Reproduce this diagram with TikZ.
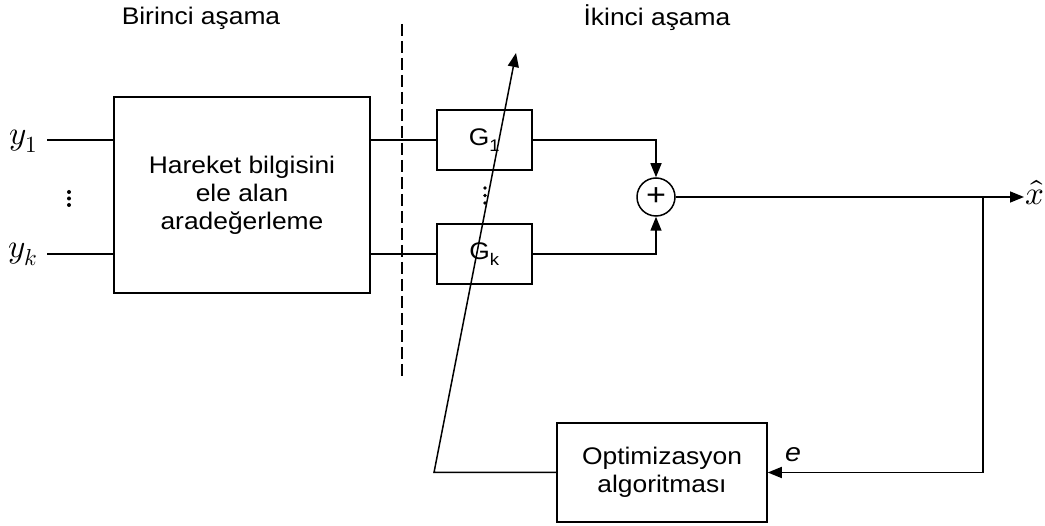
\documentclass[tikz,border=0pt]{standalone}
\usepackage{fontspec}
\usepackage{unicode-math}
\setmainfont{Liberation Sans}[FakeStretch=1.1]
\setmathfont{Latin Modern Math}
\usetikzlibrary{arrows.meta}
\begin{document}
\begin{tikzpicture}[x=1pt,y=-1pt,
  line width=1.5pt,
  txt/.style={font=\fontsize{24}{28}\selectfont},
  blk/.style={draw,rectangle,inner sep=0pt,align=center,font=\fontsize{24}{28}\selectfont},
  mth/.style={font=\fontsize{33}{36}\selectfont},
  arr/.style={-{Triangle[length=14pt,width=11pt]}},
  sep/.style={dash pattern=on 12pt off 5pt}]
\useasboundingbox (0,0) rectangle (1045,526);
% titles
\node[txt] (t1) at (201,18) {Birinci aşama};
\node[txt] (t2) at (657,18) {İkinci aşama};
% dashed separator
\coordinate (d1) at (402,24);
\coordinate (d2) at (402,380);
\draw[sep] (d1) -- (d2);
% blocks
\node[blk,minimum width=256pt,minimum height=196pt] (big) at (242,195) {Hareket bilgisini\\ele alan\\aradeğerleme};
\node[blk,minimum width=95pt,minimum height=60pt] (G1) at (484.5,140) {G\textsubscript{1}};
\node[blk,minimum width=95pt,minimum height=60pt] (Gk) at (484.5,254) {G\textsubscript{k}};
\node[draw,circle,minimum size=38pt,inner sep=0pt,font=\fontsize{31}{31}\selectfont] (sum) at (656,197) {+};
\node[blk,minimum width=210pt,minimum height=99pt] (opt) at (662,472.5) {Optimizasyon\\algoritması};
% inputs
\node[mth,anchor=east,inner sep=1pt] (y1) at (39,141) {$y_1$};
\node[mth,anchor=east,inner sep=1pt] (yk) at (39,254) {$y_k$};
\coordinate (y1e) at (47,140);
\coordinate (yke) at (47,254);
\draw (y1e) -- (big.west |- y1e);
\draw (yke) -- (big.west |- yke);
% vertical dots
\fill (69,192) circle (2pt) (69,198.5) circle (2pt) (69,205) circle (2pt);
\fill (485,188) circle (1.9pt) (485,195.5) circle (1.9pt) (485,203) circle (1.9pt);
% big -> G
\draw (big.east |- G1) -- (G1.west);
\draw (big.east |- Gk) -- (Gk.west);
% G -> sum
\draw[arr] (G1.east) -| (sum.north);
\draw[arr] (Gk.east) -| (sum.south);
% output
\node[mth,anchor=west,inner sep=1pt] (xh) at (1024,193) {$\hat{x}$};
\draw[arr] (sum.east) -- (xh.west |- sum.east);
\coordinate (br) at (983,197);
\draw[arr] (br) |- (opt.east);
\node[font=\fontsize{26}{26}\selectfont\itshape] (e) at (793,455) {e};
% feedback adaptation arrow
\coordinate (c1) at (434,472.5);
\coordinate (tip) at (516,53);
\draw[arr] (opt.west) -- (c1) -- (tip);
\end{tikzpicture}
\end{document}
